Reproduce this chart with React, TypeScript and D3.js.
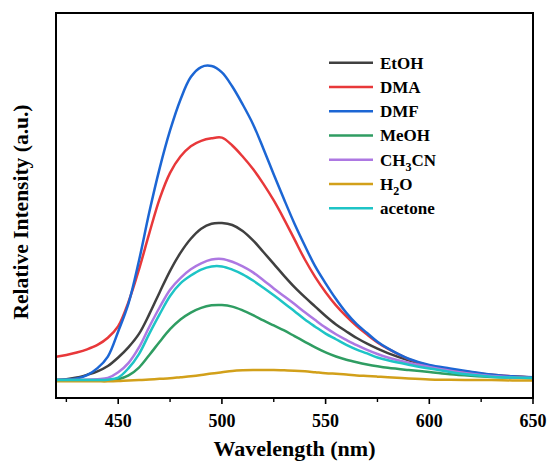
import * as d3 from 'd3';

// wavelength grid (nm)
const wavelengths = [420, 425, 430, 435, 440, 445, 450, 455, 460, 465, 470, 475, 480, 485, 490, 495, 500, 505, 510, 515, 520, 525, 530, 535, 540, 545, 550, 555, 560, 565, 570, 575, 580, 590, 600, 610, 620, 630, 640, 650];

// relative intensities, one per wavelength
const etoh = [0, 3, 8, 17, 28, 45, 72, 105, 147, 210, 280, 348, 405, 450, 482, 498, 500, 494, 475, 445, 408, 370, 332, 296, 264, 234, 204, 177, 155, 134, 116, 100, 86, 63, 45, 32, 22, 15, 11, 8];
const dma = [74, 80, 88, 98, 112, 135, 172, 250, 352, 468, 578, 660, 712, 745, 762, 770, 772, 747, 712, 672, 625, 572, 512, 448, 384, 328, 280, 238, 203, 172, 145, 120, 100, 67, 46, 34, 25, 17, 12, 8];
const dmf = [0, 2, 5, 16, 38, 75, 155, 245, 380, 535, 675, 795, 893, 965, 997, 1000, 980, 935, 878, 815, 737, 655, 575, 498, 428, 362, 308, 258, 214, 178, 150, 122, 101, 68, 48, 37, 27, 18, 12, 9];
const meoh = [0, 0, 0, 0, 0, 1, 3, 15, 40, 80, 122, 162, 193, 215, 230, 238, 239, 234, 222, 207, 190, 174, 158, 140, 122, 104, 88, 75, 65, 57, 50, 44, 39, 32, 26, 19, 14, 10, 8, 6];
const ch3cn = [0, 0, 0, 1, 3, 7, 25, 55, 104, 170, 232, 288, 325, 353, 372, 384, 386, 377, 362, 343, 318, 292, 267, 242, 216, 191, 167, 146, 128, 111, 96, 83, 72, 55, 42, 30, 20, 13, 9, 7];
const h2o = [-4, -4, -4, -4, -4, -4, -3, -1, 0, 2, 4, 6, 9, 12, 16, 21, 25, 29, 31, 32, 32, 32, 31, 30, 28, 25, 22, 20, 18, 15, 13, 11, 9, 5, 2, 1, 0, 0, -1, -1];
const acetone = [0, 0, 0, 0, 0, 1, 8, 38, 83, 148, 210, 268, 308, 333, 352, 362, 362, 352, 337, 317, 294, 270, 245, 219, 193, 170, 148, 130, 112, 97, 85, 72, 63, 49, 37, 26, 17, 11, 8, 7];

const seriesNames = ['EtOH', 'DMA', 'DMF', 'MeOH', 'CH3CN', 'H2O', 'acetone'];
const seriesValues = [etoh, dma, dmf, meoh, ch3cn, h2o, acetone];
const seriesColors = ['#404040', '#e8383a', '#1c66d4', '#2f9d62', '#ad78e2', '#d2a01a', '#1ec4c6'];

const xTicks = [450, 500, 550, 600, 650];
const xMinorTicks = [425, 475, 525, 575, 625];

const W = 547;
const H = 465;
const m = { left: 56, right: 14, top: 13, bottom: 67 };
const FONT = 'Liberation Serif, serif';

function Label({ name, x, y }: { name: string; x: number; y: number }) {
  // digits in chemical formulas become subscripts
  const parts = name.split(/(\d+)/).filter(p => p !== '');
  return (
    <text x={x} y={y} fontSize={17} fontFamily={FONT} fontWeight={700}>
      {parts.map((p, i) =>
        /\d/.test(p) ? (
          <tspan key={i} fontSize={12} dy={5}>
            {p}
          </tspan>
        ) : (
          <tspan key={i} dy={i > 0 ? -5 : 0}>
            {p}
          </tspan>
        ),
      )}
    </text>
  );
}

export default function App() {
  const x = d3.scaleLinear().domain([420, 650]).range([m.left, W - m.right]);
  const y = d3.scaleLinear().domain([-57, 1169]).range([H - m.bottom, m.top]);

  const line = d3
    .line<number>()
    .x((_, i) => x(wavelengths[i]))
    .y(d => y(d))
    .curve(d3.curveCatmullRom.alpha(0.5));

  const x0 = m.left;
  const x1 = W - m.right;
  const y0 = H - m.bottom;
  const y1 = m.top;

  return (
    <svg width={W} height={H} style={{ position: 'absolute', left: 0, top: 0, background: '#fff' }}>
      <defs>
        <clipPath id="plot">
          <rect x={x0} y={y1} width={x1 - x0} height={y0 - y1} />
        </clipPath>
      </defs>
      <g clipPath="url(#plot)">
        {seriesValues.map((vals, i) => (
          <path key={seriesNames[i]} d={line(vals) || ''} fill="none" stroke={seriesColors[i]} strokeWidth={2.5} strokeLinejoin="round" />
        ))}
      </g>
      <rect x={x0} y={y1} width={x1 - x0} height={y0 - y1} fill="none" stroke="#000" strokeWidth={2} />
      {xTicks.map(t => (
        <g key={t}>
          <line x1={x(t)} x2={x(t)} y1={y0} y2={y0 + 6} stroke="#000" strokeWidth={1.6} />
          <text x={x(t)} y={y0 + 29} textAnchor="middle" fontSize={18} fontFamily={FONT} fontWeight={700}>
            {t}
          </text>
        </g>
      ))}
      {xMinorTicks.map(t => (
        <line key={t} x1={x(t)} x2={x(t)} y1={y0} y2={y0 + 4} stroke="#000" strokeWidth={1.4} />
      ))}
      <text x={(x0 + x1) / 2} y={456} textAnchor="middle" fontSize={22} fontFamily={FONT} fontWeight={700}>
        Wavelength (nm)
      </text>
      <text transform="translate(28,212) rotate(-90)" textAnchor="middle" fontSize={21.5} fontFamily={FONT} fontWeight={700}>
        Relative Intensity (a.u.)
      </text>
      {seriesNames.map((name, i) => {
        const ly = 62.7 + i * 24.25;
        return (
          <g key={name}>
            <line x1={329} x2={373} y1={ly} y2={ly} stroke={seriesColors[i]} strokeWidth={2.6} />
            <Label name={name} x={380} y={ly + 6} />
          </g>
        );
      })}
    </svg>
  );
}
